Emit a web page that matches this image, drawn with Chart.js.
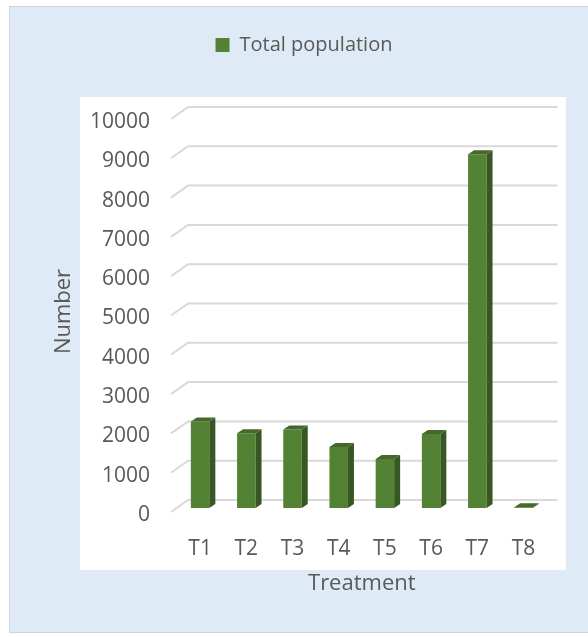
<!DOCTYPE html>
<html>
<head>
<meta charset="utf-8">
<script src="https://cdn.jsdelivr.net/npm/chart.js@4/dist/chart.umd.min.js"></script>
<style>
    body { margin: 0; background: #fff; }
    canvas { display: block; }
</style>
</head>
<body>
<canvas id="chart" width="588" height="637"></canvas>
<script>
const categories = ['T1', 'T2', 'T3', 'T4', 'T5', 'T6', 'T7', 'T8'];
const totalPopulation = [2200, 1900, 2000, 1550, 1250, 1880, 9000, 20];
const yTicks = [0, 1000, 2000, 3000, 4000, 5000, 6000, 7000, 8000, 9000, 10000];

const textColor = '#595959';
const gridColor = '#d9d9d9';
const fontFamily = '"Open Sans", "Noto Sans", sans-serif';

// panel + white plot background
const backdrop = {
    id: 'backdrop',
    beforeDraw(chart) {
        const ctx = chart.ctx;
        ctx.save();
        ctx.fillStyle = '#ffffff';
        ctx.fillRect(0, 0, chart.width, chart.height);
        ctx.fillStyle = '#deeaf6';
        ctx.fillRect(10, 7, chart.width - 10, 625);
        ctx.strokeStyle = '#d0d4d9';
        ctx.lineWidth = 1;
        ctx.strokeRect(9.5, 6.5, chart.width, 626);
        ctx.fillStyle = '#ffffff';
        ctx.fillRect(80, 97, 486, 473);
        ctx.restore();
    }
};

// 3D-looking gridlines (floor edge + back wall)
const wallGrid = {
    id: 'wallGrid',
    beforeDatasetsDraw(chart) {
        const {ctx, chartArea} = chart;
        const y = chart.scales.y;
        ctx.save();
        ctx.strokeStyle = gridColor;
        ctx.lineWidth = 2;
        y.ticks.forEach(t => {
            const py = y.getPixelForValue(t.value);
            ctx.beginPath();
            ctx.moveTo(chartArea.left - 6, py + 4);
            ctx.lineTo(chartArea.left + 11, py - 8);
            ctx.lineTo(chartArea.right + 11, py - 8);
            ctx.stroke();
        });
        ctx.restore();
    }
};

// side and top faces for each bar
const barDepth = {
    id: 'barDepth',
    afterDatasetsDraw(chart) {
        const ctx = chart.ctx;
        const dx = 6, dy = 4;
        chart.getDatasetMeta(0).data.forEach(bar => {
            const {x, y, base, width} = bar.getProps(['x', 'y', 'base', 'width'], true);
            const l = x - width / 2, r = x + width / 2;
            ctx.save();
            ctx.fillStyle = '#385723';
            ctx.beginPath();
            ctx.moveTo(r, y);
            ctx.lineTo(r + dx, y - dy);
            ctx.lineTo(r + dx, base - dy);
            ctx.lineTo(r, base);
            ctx.closePath();
            ctx.fill();
            ctx.fillStyle = '#44692b';
            ctx.beginPath();
            ctx.moveTo(l, y);
            ctx.lineTo(l + dx, y - dy);
            ctx.lineTo(r + dx, y - dy);
            ctx.lineTo(r, y);
            ctx.closePath();
            ctx.fill();
            ctx.restore();
        });
    }
};

new Chart(document.getElementById('chart'), {
    type: 'bar',
    data: {
        labels: categories,
        datasets: [{
            label: 'Total population',
            data: totalPopulation,
            backgroundColor: '#548235',
            borderWidth: 0,
            categoryPercentage: 1,
            barPercentage: 0.4,
            xAxisID: 'x',
            yAxisID: 'y'
        }]
    },
    options: {
        responsive: false,
        animation: false,
        layout: { padding: { top: 25, left: 20, right: 0, bottom: 0 } },
        plugins: {
            legend: {
                position: 'top',
                labels: {
                    color: textColor,
                    font: { family: fontFamily, size: 20 },
                    boxWidth: 14,
                    boxHeight: 14,
                    padding: 10
                }
            },
            tooltip: { enabled: false }
        },
        scales: {
            x: {
                position: 'bottom',
                grid: { display: false, drawTicks: false },
                border: { display: false },
                ticks: { color: textColor, font: { family: fontFamily, size: 21 }, padding: 28.4 },
                title: {
                    display: true,
                    text: 'Treatment',
                    color: textColor,
                    font: { family: fontFamily, size: 22 },
                    padding: { top: 0, bottom: 39.8 }
                },
                afterFit(s) { s.height = 129; }
            },
            xTop: {
                type: 'category',
                position: 'top',
                grid: { display: false, drawTicks: false },
                border: { display: false },
                ticks: { display: false },
                afterFit(s) { s.height = 50; }
            },
            y: {
                position: 'left',
                min: 0,
                max: 10000,
                afterBuildTicks(s) { s.ticks = yTicks.map(v => ({ value: v })); },
                grid: { display: false, drawTicks: false },
                border: { display: false },
                ticks: {
                    color: textColor,
                    font: { family: fontFamily, size: 21 },
                    padding: 27,
                    labelOffset: 7,
                    callback: v => String(v)
                },
                title: {
                    display: true,
                    text: 'Number',
                    color: textColor,
                    font: { family: fontFamily, size: 22 },
                    padding: { top: 30.8, bottom: 0 }
                },
                afterFit(s) { s.width = 157; }
            },
            yRight: {
                type: 'linear',
                position: 'right',
                grid: { display: false, drawTicks: false },
                border: { display: false },
                ticks: { display: false },
                afterFit(s) { s.width = 41.4; }
            }
        }
    },
    plugins: [backdrop, wallGrid, barDepth]
});
</script>
</body>
</html>
